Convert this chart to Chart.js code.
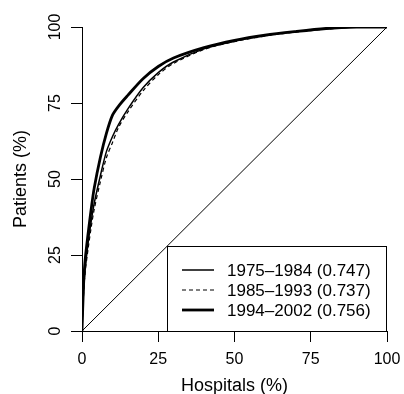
<!DOCTYPE html>
<html>
<head>
<meta charset="utf-8">
<script src="https://cdn.jsdelivr.net/npm/chart.js@4"></script>
<style>
  html, body { margin: 0; padding: 0; background: #fff; }
  #wrap { width: 404px; height: 394px; }
</style>
</head>
<body>
<div id="wrap"><canvas id="lorenz"></canvas></div>
<script>
// hospitals (%) on x, cumulative patients (%) on y
const hospitals = [0, 0.5, 1, 2, 3, 4, 6, 8, 10, 12, 15, 20, 25, 30, 40, 50, 60, 70, 80, 90, 100];
const p1975 = [0, 13, 20, 29, 36, 42, 51, 59, 64, 68, 73, 80, 85, 88.5, 92.8, 95.3, 97.1, 98.4, 99.4, 100, 100];
const p1985 = [0, 12, 19, 27, 34, 40, 49, 57, 62, 67, 72, 79, 84.3, 88, 92.6, 95.2, 97.0, 98.3, 99.3, 100, 100];
const p1994 = [0, 15, 23, 32, 40, 47, 57, 65, 71, 74, 77.5, 83, 87, 89.8, 93.2, 95.6, 97.3, 98.5, 99.5, 100, 100];
const diag = [0, 100];
const seriesNames = ["1975\u20131984 (0.747)", "1985\u20131993 (0.737)", "1994\u20132002 (0.756)"];
const xTicks = [0, 25, 50, 75, 100];
const yTicks = [0, 25, 50, 75, 100];

const FONT = "'Liberation Sans', Arial, sans-serif";
const pts = (xs, ys) => xs.map((x, i) => ({x: x, y: ys[i]}));

const lineStyles = [
  {borderWidth: 1.5, borderDash: []},
  {borderWidth: 1.2, borderDash: [4, 3]},
  {borderWidth: 2.8, borderDash: []}
];

// R style: y tick labels parallel to the axis, y title, boxed legend bottom right
const rBits = {
  id: "rBits",
  afterDatasetsDraw(chart){
    const ctx = chart.ctx;
    const a = chart.chartArea;
    const ys = chart.scales.y;
    ctx.save();
    ctx.fillStyle = "#000";
    ctx.textAlign = "center";
    ctx.textBaseline = "middle";

    ctx.font = "16px " + FONT;
    yTicks.forEach(v => {
      ctx.save();
      ctx.translate(55, ys.getPixelForValue(v));
      ctx.rotate(-Math.PI / 2);
      ctx.fillText(String(v), 0, 1);
      ctx.restore();
    });

    ctx.font = "18px " + FONT;
    ctx.save();
    ctx.translate(21, (a.top + a.bottom) / 2);
    ctx.rotate(-Math.PI / 2);
    ctx.fillText("Patients (%)", 0, 0);
    ctx.restore();

    const w = 220, h = 85;
    const x0 = a.right - w, y0 = a.bottom - h;
    ctx.fillStyle = "#fff";
    ctx.fillRect(x0, y0, w, h);
    ctx.strokeStyle = "#000";
    ctx.lineWidth = 1;
    ctx.strokeRect(x0 + 0.5, y0 + 0.5, w - 1, h);
    ctx.font = "17px " + FONT;
    ctx.textAlign = "left";
    ctx.fillStyle = "#000";
    seriesNames.forEach((name, i) => {
      const yy = y0 + 24 + i * 20;
      ctx.beginPath();
      ctx.lineWidth = lineStyles[i].borderWidth;
      ctx.setLineDash(lineStyles[i].borderDash);
      ctx.moveTo(x0 + 15, yy);
      ctx.lineTo(x0 + 47, yy);
      ctx.stroke();
      ctx.setLineDash([]);
      ctx.fillText(name, x0 + 60, yy + 1);
    });
    ctx.restore();
  }
};

const mk = (label, ys, i) => ({
  label: label,
  data: pts(hospitals, ys),
  showLine: true,
  borderColor: "#000",
  borderWidth: lineStyles[i].borderWidth,
  borderDash: lineStyles[i].borderDash,
  pointRadius: 0,
  tension: 0.3,
  fill: false
});

new Chart(document.getElementById("lorenz"), {
  type: "scatter",
  data: {
    datasets: [
      mk(seriesNames[0], p1975, 0),
      mk(seriesNames[1], p1985, 1),
      mk(seriesNames[2], p1994, 2),
      {
        label: "equality",
        data: pts(diag, diag),
        showLine: true,
        borderColor: "#000",
        borderWidth: 1,
        pointRadius: 0,
        fill: false
      }
    ]
  },
  options: {
    responsive: true,
    maintainAspectRatio: false,
    animation: false,
    layout: {padding: {top: 27, right: 17, left: 0, bottom: 0}},
    plugins: {legend: {display: false}, tooltip: {enabled: false}},
    scales: {
      x: {
        type: "linear",
        min: 0, max: 100,
        afterBuildTicks: s => { s.ticks = xTicks.map(v => ({value: v})); },
        afterFit: s => { s.height = 63; s.paddingLeft = 0; s.paddingRight = 0; },
        grid: {display: true, drawOnChartArea: false, tickLength: 11, tickColor: "#000", tickWidth: 1},
        border: {display: true, color: "#000", width: 1},
        ticks: {color: "#000", font: {family: FONT, size: 16}, padding: 8, maxRotation: 0},
        title: {display: true, text: "Hospitals (%)", color: "#000", font: {family: FONT, size: 18}, padding: {top: 0, bottom: -3}}
      },
      y: {
        type: "linear",
        min: 0, max: 100,
        afterBuildTicks: s => { s.ticks = yTicks.map(v => ({value: v})); },
        afterFit: s => { s.width = 82; s.paddingTop = 0; s.paddingBottom = 0; },
        grid: {display: true, drawOnChartArea: false, tickLength: 11, tickColor: "#000", tickWidth: 1},
        border: {display: true, color: "#000", width: 1},
        ticks: {display: false},
        title: {display: false}
      }
    }
  },
  plugins: [rBits]
});
</script>
</body>
</html>
